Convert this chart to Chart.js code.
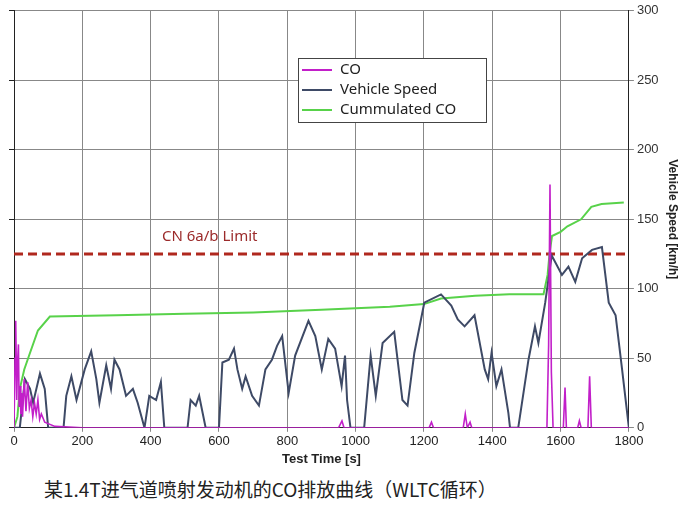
<!DOCTYPE html>
<html lang="zh">
<head>
<meta charset="UTF-8">
<title>CO排放曲线</title>
<script src="https://cdn.jsdelivr.net/npm/chart.js"></script>
<style>
    body { margin: 0; background: #fff; font-family: 'Noto Sans', 'Noto Sans CJK SC', sans-serif; }
    #wrap { width: 700px; height: 467px; position: relative; }
    .caption { font-family: 'Noto Sans CJK SC', sans-serif; font-size: 19px; color: #222; margin: 8px 0 0 44px; }
</style>
</head>
<body>
<div id="wrap"><canvas id="grafico"></canvas></div>
<div class="caption">某1.4T进气道喷射发动机的CO排放曲线（WLTC循环）</div>
<script>
    const xTicks = [0, 200, 400, 600, 800, 1000, 1200, 1400, 1600, 1800];
    const yTicks = [0, 50, 100, 150, 200, 250, 300];
    const limitValue = 125;

    const speedT = [0,17,32,47,56,76,90,100,145,153,168,183,207,226,241,250,270,284,294,309,328,348,362,382,396,416,430,440,508,517,532,542,561,600,610,629,644,654,668,678,697,717,736,755,770,785,804,823,862,882,901,920,940,959,969,975,985,1025,1044,1059,1079,1113,1137,1152,1172,1201,1250,1280,1299,1319,1348,1378,1388,1398,1412,1427,1447,1452,1476,1506,1525,1535,1555,1574,1604,1623,1643,1663,1692,1721,1741,1761,1780,1800];
    const speedV = [0,0,35,28,18,39,28,0,0,23,37,20,42,55,35,18,45,28,49,42,23,28,18,0,23,20,33,0,0,20,16,23,0,0,47,49,57,42,28,37,23,16,42,49,59,66,25,52,77,66,42,64,57,30,52,20,0,0,52,23,61,69,20,16,54,90,96,88,78,73,81,42,35,54,30,42,11,0,0,49,73,61,90,124,110,116,105,122,128,130,90,81,42,0];

    const cumT = [0,10,17,30,47,70,105,300,500,700,900,1000,1100,1200,1250,1350,1450,1550,1562,1568,1575,1600,1620,1660,1690,1720,1785];
    const cumV = [0,8,28,42,54,70,80,81,82,83,85,86,87,89,93,95,96,96,110,126,138,141,145,150,159,161,162];

    const coT = [0,3,5,8,10,13,15,18,20,23,25,30,35,40,45,50,55,60,65,70,75,80,90,100,120,200,400,950,960,966,1215,1222,1228,1315,1321,1327,1335,1340,1560,1565,1569,1573,1578,1608,1613,1617,1650,1655,1660,1680,1685,1690,1800];
    const coV = [0,50,77,20,45,60,15,30,10,25,8,35,12,33,14,20,8,18,10,20,6,10,4,3,1,0,0,0,5,0,0,4,0,0,10,0,4,0,0,60,175,40,0,0,29,0,0,5,0,0,37,0,0];

    const toXY = (t, v) => t.map((x, i) => ({ x: x, y: v[i] }));

    const legendaPlugin = {
        id: 'legenda',
        afterDraw(chart) {
            const c = chart.ctx;
            c.save();
            c.fillStyle = '#9b2a2a';
            c.font = '15px "Noto Sans", sans-serif';
            c.fillText('CN 6a/b Limit', 162, 241);
            const bx = 298, by = 58, bw = 188, bh = 64;
            c.fillStyle = '#fff';
            c.fillRect(bx, by, bw, bh);
            c.strokeStyle = '#444';
            c.lineWidth = 1;
            c.strokeRect(bx + 0.5, by + 0.5, bw, bh);
            c.textBaseline = 'middle';
            chart.data.datasets.slice(0, 3).forEach((ds, i) => {
                const yy = by + 12 + i * 20;
                c.strokeStyle = ds.borderColor;
                c.lineWidth = 2;
                c.beginPath(); c.moveTo(bx + 4, yy); c.lineTo(bx + 34, yy); c.stroke();
                c.fillStyle = '#222';
                c.fillText(ds.label, bx + 42, yy);
            });
            c.restore();
        }
    };

    new Chart(document.getElementById('grafico'), {
        type: 'scatter',
        data: {
            datasets: [
                { label: 'CO', data: toXY(coT, coV), borderColor: '#c21fc9', borderWidth: 1.6, showLine: true, pointRadius: 0, yAxisID: 'y' },
                { label: 'Vehicle Speed', data: toXY(speedT, speedV), borderColor: '#3e4a66', borderWidth: 2, showLine: true, pointRadius: 0, yAxisID: 'y' },
                { label: 'Cummulated CO', data: toXY(cumT, cumV), borderColor: '#58d24a', borderWidth: 2, showLine: true, pointRadius: 0, yAxisID: 'y' },
                { label: 'Limit', data: [{ x: 0, y: limitValue }, { x: 1800, y: limitValue }], borderColor: '#b0281e', borderWidth: 3, borderDash: [9, 5], showLine: true, pointRadius: 0, yAxisID: 'y' }
            ]
        },
        options: {
            responsive: true,
            maintainAspectRatio: false,
            animation: false,
            layout: { padding: { left: 9, top: 4, right: 16 } },
            plugins: { legend: { display: false }, tooltip: { enabled: false } },
            scales: {
                x: {
                    type: 'linear', min: 0, max: 1800,
                    afterBuildTicks: s => { s.ticks = xTicks.map(v => ({ value: v })); },
                    ticks: { color: '#222', font: { size: 13 }, padding: 2, callback: v => String(v) },
                    grid: { color: '#888', tickLength: 4 },
                    border: { color: '#222' },
                    title: { display: true, text: 'Test Time [s]', color: '#222', font: { size: 13, weight: 'bold' }, padding: 0 }
                },
                y: {
                    position: 'right', min: 0, max: 300,
                    afterBuildTicks: s => { s.ticks = yTicks.map(v => ({ value: v })); },
                    ticks: { color: '#333', font: { size: 13 }, callback: v => String(v) },
                    grid: { color: '#888', tickLength: 5 },
                    border: { color: '#222' },
                    title: { display: true, text: 'Vehicle Speed [km/h]', color: '#222', font: { size: 12, weight: 'bold' } }
                },
                yl: {
                    position: 'left', min: 0, max: 300,
                    afterBuildTicks: s => { s.ticks = yTicks.map(v => ({ value: v })); },
                    ticks: { callback: () => '', padding: 0 },
                    grid: { drawOnChartArea: false, tickLength: 5, color: '#222' },
                    border: { color: '#222' }
                }
            }
        },
        plugins: [legendaPlugin]
    });
</script>
</body>
</html>
